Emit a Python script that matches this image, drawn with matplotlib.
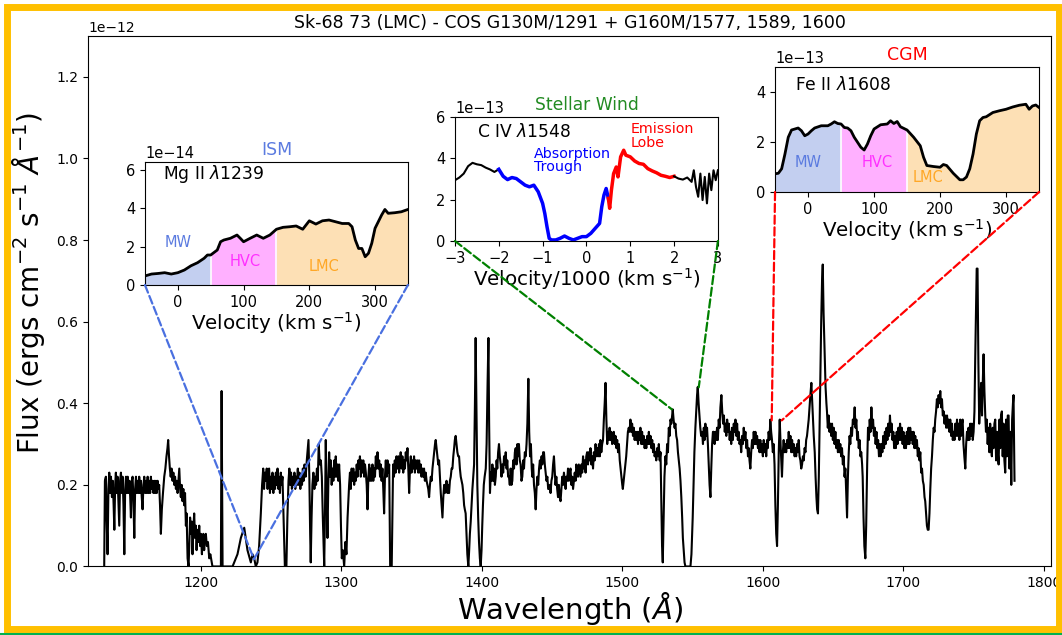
import numpy as np
import matplotlib
matplotlib.use('Agg')
import matplotlib.pyplot as plt
from matplotlib.patches import ConnectionPatch, Rectangle
from matplotlib.lines import Line2D

# main COS spectrum as (wavelength A, flux in 1e-12 erg/cm2/s/A), read in pieces
seg_1130 = [(1131.5, 0.0), (1132.0, 0.21), (1132.7, 0.22), (1133.2, 0.12), (1133.9, 0.03),
            (1134.5, 0.19), (1135.1, 0.23), (1135.7, 0.18), (1136.3, 0.22), (1137.0, 0.17),
            (1137.6, 0.21), (1138.2, 0.15), (1138.7, 0.09), (1139.3, 0.20), (1139.8, 0.23),
            (1140.4, 0.18), (1141.0, 0.22), (1141.6, 0.16), (1142.2, 0.10), (1142.8, 0.21),
            (1143.4, 0.23), (1144.0, 0.18), (1144.6, 0.22), (1145.2, 0.15), (1145.8, 0.03),
            (1146.4, 0.19), (1147.0, 0.22), (1147.6, 0.18), (1148.2, 0.22), (1148.8, 0.18),
            (1149.4, 0.21), (1150.0, 0.17), (1150.5, 0.12), (1151.1, 0.21), (1151.7, 0.22),
            (1152.3, 0.16), (1152.9, 0.07), (1153.5, 0.19), (1154.1, 0.22), (1154.7, 0.18),
            (1155.3, 0.21), (1155.9, 0.18), (1156.4, 0.22), (1157.0, 0.18), (1157.6, 0.21),
            (1158.2, 0.17), (1158.8, 0.14), (1159.4, 0.20), (1160.0, 0.22), (1160.6, 0.18),
            (1161.2, 0.21), (1161.8, 0.18), (1162.4, 0.22), (1163.0, 0.18), (1163.6, 0.21),
            (1164.2, 0.18), (1164.7, 0.22), (1165.3, 0.19), (1165.9, 0.21), (1166.5, 0.18),
            (1167.1, 0.21), (1167.7, 0.18), (1168.3, 0.21), (1168.9, 0.18), (1169.5, 0.21),
            (1170.1, 0.19), (1170.6, 0.20), (1171.2, 0.15), (1171.8, 0.08), (1172.5, 0.14),
            (1173.3, 0.18), (1174.2, 0.22), (1175.0, 0.24), (1175.8, 0.27), (1176.5, 0.29),
            (1177.0, 0.31), (1177.6, 0.27), (1178.2, 0.24), (1178.8, 0.22), (1179.4, 0.24),
            (1180.1, 0.21), (1180.7, 0.23), (1181.3, 0.20), (1181.9, 0.22), (1182.5, 0.19),
            (1183.1, 0.21), (1183.7, 0.18), (1184.3, 0.21), (1184.9, 0.24), (1185.5, 0.19),
            (1186.0, 0.17), (1186.6, 0.20), (1187.2, 0.16), (1187.8, 0.19), (1188.4, 0.15),
            (1189.0, 0.18), (1189.6, 0.10), (1190.1, 0.13), (1190.8, 0.02), (1191.5, 0.0),
            (1192.0, 0.05), (1192.6, 0.12), (1193.2, 0.08), (1193.8, 0.11), (1194.3, 0.03),
            (1194.9, 0.09), (1195.5, 0.13), (1196.1, 0.07), (1196.7, 0.10), (1197.2, 0.04),
            (1197.8, 0.09), (1198.4, 0.06), (1199.1, 0.10), (1199.7, 0.05), (1200.3, 0.08),
            (1201.0, 0.03), (1201.4, 0.06), (1202.0, 0.08), (1202.6, 0.04), (1203.2, 0.07),
            (1203.8, 0.08), (1204.5, 0.05), (1205.3, 0.06), (1206.2, 0.02), (1207.0, 0.03),
            (1208.5, 0.0)]

seg_lya_mg = [(1214.5, 0.0), (1215.0, 0.43), (1215.7, 0.0), (1222.8, 0.0), (1226.3, 0.03),
              (1228.7, 0.07), (1231.1, 0.095), (1233.4, 0.04), (1235.8, 0.01), (1237.0, 0.03),
              (1238.2, 0.02), (1239.3, 0.0), (1240.5, 0.01), (1241.7, 0.05), (1242.9, 0.13),
              (1243.8, 0.20), (1244.6, 0.24)]

seg_1245 = [(1245.2, 0.19), (1245.8, 0.23), (1246.5, 0.21), (1247.1, 0.24), (1247.7, 0.19),
            (1248.3, 0.23), (1248.8, 0.24), (1249.4, 0.18), (1250.0, 0.22), (1250.6, 0.19),
            (1251.2, 0.23), (1251.8, 0.18), (1252.4, 0.22), (1253.0, 0.19), (1253.6, 0.23),
            (1254.2, 0.20), (1254.8, 0.24), (1255.4, 0.19), (1255.9, 0.22), (1256.5, 0.18),
            (1257.1, 0.23), (1257.7, 0.20), (1258.3, 0.22), (1259.2, 0.10), (1260.0, 0.0),
            (1261.1, 0.0), (1261.8, 0.12), (1262.6, 0.21), (1263.2, 0.24), (1263.8, 0.20),
            (1264.4, 0.23), (1265.0, 0.19), (1265.6, 0.22), (1266.2, 0.20), (1266.8, 0.23),
            (1267.4, 0.19), (1268.0, 0.22), (1268.6, 0.20), (1269.2, 0.24), (1269.8, 0.20),
            (1270.4, 0.23), (1271.0, 0.19), (1271.6, 0.22), (1272.2, 0.20), (1272.8, 0.24),
            (1273.4, 0.21), (1274.0, 0.25), (1274.8, 0.22), (1275.6, 0.26), (1276.3, 0.29),
            (1276.8, 0.31), (1277.4, 0.22), (1278.0, 0.08), (1278.4, 0.01), (1279.0, 0.12),
            (1279.6, 0.20), (1280.3, 0.23), (1281.0, 0.19), (1281.6, 0.22), (1282.2, 0.20),
            (1282.8, 0.24), (1283.4, 0.21), (1284.1, 0.30), (1284.8, 0.25), (1285.6, 0.26),
            (1286.3, 0.22), (1287.0, 0.12), (1288.0, 0.0), (1288.6, 0.15), (1289.1, 0.31),
            (1289.7, 0.18), (1290.3, 0.07), (1290.9, 0.20), (1291.5, 0.28)]

seg_1292 = [(1292.1, 0.22), (1292.7, 0.26), (1293.3, 0.20), (1293.9, 0.24), (1294.5, 0.21),
            (1295.1, 0.26), (1295.7, 0.22), (1296.2, 0.27), (1296.8, 0.22), (1297.4, 0.25),
            (1298.0, 0.21), (1298.6, 0.25), (1299.3, 0.20), (1299.9, 0.10), (1300.5, 0.02),
            (1301.2, 0.04), (1302.2, 0.0), (1303.0, 0.06), (1303.8, 0.03), (1304.6, 0.12),
            (1305.7, 0.20), (1306.3, 0.23), (1306.9, 0.19), (1307.5, 0.24), (1308.1, 0.21),
            (1308.7, 0.24), (1309.3, 0.20), (1309.9, 0.23), (1310.5, 0.21), (1311.1, 0.25),
            (1311.7, 0.22), (1312.3, 0.26), (1312.8, 0.24), (1313.4, 0.27), (1314.0, 0.22),
            (1314.6, 0.26), (1315.2, 0.23), (1315.8, 0.26), (1316.4, 0.22), (1317.0, 0.25),
            (1317.6, 0.23), (1318.2, 0.20), (1318.8, 0.14), (1319.4, 0.22), (1320.0, 0.25),
            (1320.6, 0.21), (1321.1, 0.24), (1321.7, 0.21), (1322.3, 0.25), (1322.9, 0.21),
            (1323.5, 0.24), (1324.1, 0.22), (1324.7, 0.27), (1325.3, 0.24), (1325.9, 0.28),
            (1326.5, 0.24), (1327.1, 0.26), (1327.7, 0.22), (1328.2, 0.25), (1328.8, 0.21),
            (1329.4, 0.24), (1330.0, 0.19), (1330.6, 0.13), (1331.2, 0.22), (1331.8, 0.26),
            (1332.4, 0.22), (1333.0, 0.26), (1333.6, 0.23), (1334.2, 0.25), (1334.9, 0.0),
            (1336.0, 0.0), (1337.0, 0.25), (1337.6, 0.22), (1338.2, 0.26), (1338.8, 0.23),
            (1339.4, 0.27), (1340.1, 0.24), (1340.7, 0.27), (1341.3, 0.23), (1341.9, 0.26),
            (1342.4, 0.28), (1343.0, 0.24), (1343.6, 0.27), (1344.2, 0.23), (1344.8, 0.26),
            (1345.4, 0.24), (1346.0, 0.28), (1346.6, 0.26), (1347.2, 0.29), (1347.8, 0.24),
            (1348.4, 0.18), (1349.0, 0.24), (1349.6, 0.27), (1350.1, 0.23), (1350.7, 0.26),
            (1351.3, 0.24), (1351.9, 0.27), (1352.5, 0.23), (1353.1, 0.26), (1353.7, 0.24),
            (1354.3, 0.26), (1354.9, 0.23), (1355.5, 0.26), (1356.1, 0.23), (1356.7, 0.25),
            (1357.2, 0.22), (1357.8, 0.24), (1358.4, 0.22), (1359.0, 0.24), (1359.6, 0.21),
            (1360.2, 0.23), (1360.8, 0.21), (1361.4, 0.20), (1362.0, 0.19), (1362.6, 0.17),
            (1363.2, 0.20), (1363.8, 0.22), (1364.4, 0.21), (1365.0, 0.24), (1365.6, 0.26),
            (1366.2, 0.28), (1366.8, 0.30), (1367.3, 0.31), (1367.9, 0.29), (1368.5, 0.27),
            (1369.1, 0.25), (1369.7, 0.26), (1370.3, 0.22), (1370.9, 0.18), (1371.5, 0.15),
            (1372.1, 0.12), (1372.7, 0.17), (1373.3, 0.20), (1373.8, 0.18), (1374.4, 0.19),
            (1375.0, 0.21), (1375.6, 0.18), (1376.2, 0.20), (1376.8, 0.18), (1377.4, 0.21),
            (1378.0, 0.22), (1378.6, 0.24), (1379.2, 0.24), (1379.8, 0.27), (1380.4, 0.29),
            (1380.9, 0.31), (1381.5, 0.32), (1382.1, 0.30), (1382.7, 0.28), (1383.3, 0.27),
            (1383.9, 0.27), (1384.5, 0.24), (1385.1, 0.22), (1385.7, 0.21), (1386.3, 0.20),
            (1386.9, 0.18), (1387.5, 0.15), (1388.0, 0.14), (1388.6, 0.13), (1389.2, 0.08),
            (1389.8, 0.03), (1390.5, 0.0), (1391.1, 0.04), (1391.6, 0.08), (1392.2, 0.11),
            (1392.8, 0.15), (1393.4, 0.19), (1394.0, 0.22), (1394.6, 0.25), (1395.2, 0.40),
            (1395.7, 0.56), (1396.2, 0.40), (1396.9, 0.20), (1397.5, 0.12), (1398.1, 0.06),
            (1398.7, 0.02), (1399.3, 0.0), (1399.9, 0.04), (1400.4, 0.10), (1400.9, 0.15),
            (1401.5, 0.20), (1402.1, 0.22), (1402.9, 0.24), (1403.5, 0.30), (1404.2, 0.45),
            (1404.8, 0.56), (1405.3, 0.35), (1405.9, 0.18), (1406.5, 0.23), (1407.1, 0.21),
            (1407.6, 0.25), (1408.2, 0.21), (1408.8, 0.24), (1409.4, 0.20), (1410.0, 0.22),
            (1410.6, 0.26), (1411.1, 0.24), (1411.7, 0.28), (1412.3, 0.30), (1412.9, 0.27),
            (1413.5, 0.25), (1414.1, 0.22), (1414.7, 0.25), (1415.3, 0.23), (1415.9, 0.27),
            (1416.5, 0.25), (1417.1, 0.28), (1417.7, 0.24), (1418.2, 0.26), (1418.8, 0.22),
            (1419.4, 0.22), (1420.0, 0.20), (1420.6, 0.24), (1421.2, 0.20), (1421.8, 0.21),
            (1422.4, 0.26), (1423.0, 0.24), (1423.6, 0.28), (1424.2, 0.29), (1424.8, 0.25),
            (1425.4, 0.30), (1425.9, 0.27), (1426.5, 0.30), (1427.1, 0.26), (1427.7, 0.25),
            (1428.3, 0.21), (1428.9, 0.22), (1429.5, 0.26), (1430.1, 0.24), (1430.7, 0.28),
            (1431.3, 0.27), (1431.9, 0.30), (1432.5, 0.35), (1433.2, 0.46), (1433.8, 0.33),
            (1434.4, 0.27), (1435.0, 0.30), (1435.6, 0.24), (1436.0, 0.22), (1436.6, 0.25),
            (1437.2, 0.20), (1437.8, 0.18), (1438.4, 0.14), (1439.0, 0.19), (1439.6, 0.22),
            (1440.2, 0.20), (1440.8, 0.24), (1441.4, 0.26), (1442.0, 0.24), (1442.6, 0.27),
            (1443.1, 0.25), (1443.7, 0.28), (1444.3, 0.28), (1444.9, 0.25), (1445.5, 0.23),
            (1446.1, 0.21), (1446.7, 0.22), (1447.3, 0.19), (1447.9, 0.19), (1448.5, 0.20),
            (1449.0, 0.18), (1449.6, 0.21), (1450.2, 0.22), (1450.8, 0.25), (1451.4, 0.27),
            (1452.0, 0.23), (1452.5, 0.20), (1453.1, 0.22), (1453.7, 0.19), (1454.3, 0.17),
            (1454.9, 0.20), (1455.5, 0.17), (1456.1, 0.16), (1456.7, 0.19), (1457.3, 0.22),
            (1457.9, 0.20), (1458.5, 0.23), (1459.1, 0.21), (1459.7, 0.19), (1460.2, 0.22),
            (1460.8, 0.21), (1461.4, 0.24), (1462.0, 0.21), (1462.6, 0.23), (1463.2, 0.24),
            (1463.8, 0.20), (1464.4, 0.22), (1465.0, 0.19), (1465.6, 0.21), (1466.2, 0.23),
            (1466.8, 0.21), (1467.3, 0.25), (1467.9, 0.24), (1468.5, 0.22), (1469.1, 0.25)]

seg_1470 = [(1470.3, 0.22), (1471.0, 0.25), (1471.5, 0.23), (1472.1, 0.27), (1472.7, 0.24),
            (1473.3, 0.26), (1473.9, 0.23), (1474.4, 0.27), (1475.0, 0.28), (1475.6, 0.25),
            (1476.2, 0.28), (1476.8, 0.26), (1477.4, 0.29), (1478.0, 0.25), (1478.6, 0.27),
            (1479.2, 0.24), (1479.8, 0.28), (1480.4, 0.26), (1481.0, 0.30), (1481.6, 0.27),
            (1482.2, 0.29), (1482.8, 0.27), (1483.4, 0.30), (1484.0, 0.27), (1484.5, 0.31),
            (1485.1, 0.28), (1485.7, 0.30), (1486.3, 0.31), (1486.9, 0.36), (1487.5, 0.40),
            (1488.1, 0.45), (1488.7, 0.36), (1489.3, 0.30), (1489.9, 0.33), (1490.4, 0.31),
            (1491.0, 0.34), (1491.6, 0.31), (1492.2, 0.33), (1492.8, 0.30), (1493.4, 0.32),
            (1494.0, 0.33), (1494.6, 0.30), (1495.2, 0.32), (1495.8, 0.29), (1496.4, 0.31),
            (1497.0, 0.28), (1497.6, 0.30), (1498.2, 0.26), (1498.8, 0.24), (1499.4, 0.22),
            (1500.0, 0.20), (1500.4, 0.19), (1501.0, 0.21), (1501.6, 0.23), (1502.2, 0.25),
            (1502.8, 0.27), (1503.4, 0.30), (1504.0, 0.33), (1504.6, 0.34), (1505.2, 0.33),
            (1505.8, 0.36), (1506.4, 0.33), (1507.0, 0.35), (1507.6, 0.32), (1508.2, 0.34),
            (1508.8, 0.31), (1509.4, 0.33), (1510.0, 0.31), (1510.6, 0.33), (1511.2, 0.30),
            (1511.8, 0.33), (1512.3, 0.31), (1512.9, 0.34), (1513.5, 0.30), (1514.1, 0.33),
            (1514.7, 0.30), (1515.3, 0.32), (1515.9, 0.29), (1516.5, 0.31), (1517.1, 0.29),
            (1517.7, 0.32), (1518.3, 0.30), (1518.9, 0.33), (1519.5, 0.30), (1520.1, 0.32),
            (1520.7, 0.29), (1521.3, 0.31), (1521.9, 0.28), (1522.5, 0.30), (1523.0, 0.27),
            (1523.6, 0.28), (1524.2, 0.26), (1524.8, 0.29), (1525.4, 0.27), (1526.0, 0.30),
            (1526.6, 0.26), (1527.2, 0.28), (1527.8, 0.15), (1528.3, 0.05), (1528.8, 0.01),
            (1529.4, 0.12), (1530.0, 0.22), (1530.7, 0.27), (1531.3, 0.25), (1531.9, 0.30),
            (1532.5, 0.28), (1533.1, 0.34), (1533.7, 0.32), (1534.3, 0.36), (1534.9, 0.35),
            (1535.9, 0.385), (1536.5, 0.36), (1537.2, 0.34), (1537.8, 0.35), (1538.4, 0.32),
            (1539.0, 0.31), (1539.6, 0.28), (1540.2, 0.26), (1540.8, 0.24), (1541.4, 0.21),
            (1542.0, 0.17), (1542.6, 0.12), (1543.1, 0.07), (1543.7, 0.04), (1544.3, 0.01),
            (1544.9, 0.0), (1546.1, 0.0), (1547.3, 0.0), (1548.5, 0.0), (1549.2, 0.03),
            (1549.7, 0.08), (1550.1, 0.12), (1550.7, 0.20), (1551.3, 0.28), (1552.0, 0.34),
            (1552.6, 0.38), (1553.2, 0.42), (1553.7, 0.44), (1554.3, 0.40), (1554.9, 0.37),
            (1555.5, 0.34), (1556.1, 0.32), (1556.8, 0.33), (1557.4, 0.30), (1558.0, 0.34),
            (1558.6, 0.31), (1559.1, 0.35), (1559.7, 0.32), (1560.3, 0.34), (1560.9, 0.30),
            (1561.5, 0.25), (1562.1, 0.20), (1562.7, 0.17), (1563.3, 0.24), (1563.9, 0.30),
            (1564.5, 0.33), (1565.1, 0.33), (1565.7, 0.30), (1566.3, 0.33), (1566.9, 0.31),
            (1567.4, 0.34), (1568.0, 0.31), (1568.6, 0.36), (1569.2, 0.34), (1569.8, 0.39),
            (1570.5, 0.42), (1571.1, 0.38), (1571.7, 0.35), (1572.3, 0.37), (1572.9, 0.33),
            (1573.4, 0.35), (1574.0, 0.32), (1574.6, 0.36), (1575.2, 0.33), (1575.8, 0.35),
            (1576.4, 0.31), (1576.9, 0.33), (1577.5, 0.30), (1578.1, 0.34), (1578.7, 0.31),
            (1579.3, 0.35), (1579.9, 0.33), (1580.5, 0.36), (1581.1, 0.32), (1581.7, 0.35),
            (1582.2, 0.31), (1582.8, 0.33), (1583.4, 0.30), (1584.0, 0.31), (1584.6, 0.28),
            (1585.2, 0.32), (1585.8, 0.30), (1586.4, 0.34), (1587.0, 0.31), (1587.6, 0.33),
            (1588.2, 0.29), (1588.8, 0.31), (1589.4, 0.27), (1590.0, 0.29), (1590.5, 0.26),
            (1591.1, 0.24), (1591.7, 0.28), (1592.3, 0.31), (1592.9, 0.29), (1593.5, 0.33),
            (1594.1, 0.30), (1594.7, 0.33), (1595.3, 0.30), (1595.9, 0.32), (1596.5, 0.29),
            (1597.0, 0.31), (1597.6, 0.28), (1598.2, 0.31), (1598.8, 0.28), (1599.4, 0.30),
            (1600.0, 0.27), (1600.6, 0.31), (1601.2, 0.28), (1601.8, 0.30), (1602.4, 0.27),
            (1603.0, 0.31), (1603.5, 0.29), (1604.1, 0.33), (1604.7, 0.31), (1605.3, 0.36),
            (1605.9, 0.33), (1606.5, 0.31), (1607.1, 0.28), (1607.7, 0.30), (1608.3, 0.25),
            (1608.9, 0.15), (1609.5, 0.08), (1610.1, 0.05), (1610.7, 0.15), (1611.3, 0.28),
            (1612.0, 0.36), (1612.6, 0.30), (1613.1, 0.26), (1613.6, 0.22), (1614.2, 0.28),
            (1614.8, 0.31), (1615.4, 0.28), (1616.0, 0.30), (1616.6, 0.28), (1617.2, 0.31),
            (1617.8, 0.29)]

seg_1618 = [(1618.4, 0.33), (1619.0, 0.29), (1619.6, 0.32), (1620.2, 0.28), (1620.8, 0.31),
            (1621.4, 0.28), (1622.0, 0.30), (1622.6, 0.27), (1623.1, 0.29), (1623.7, 0.27),
            (1624.3, 0.30), (1624.9, 0.28), (1625.5, 0.31), (1626.1, 0.27), (1626.7, 0.26),
            (1627.3, 0.24), (1627.9, 0.25), (1628.5, 0.27), (1629.1, 0.26), (1629.7, 0.29),
            (1630.3, 0.28), (1630.8, 0.31), (1631.4, 0.32), (1632.0, 0.34), (1632.6, 0.36),
            (1633.2, 0.39), (1633.8, 0.42), (1634.5, 0.45), (1635.0, 0.41), (1635.6, 0.36),
            (1636.2, 0.32), (1636.9, 0.28), (1637.5, 0.22), (1638.1, 0.17), (1638.6, 0.14),
            (1639.2, 0.13), (1639.8, 0.22), (1640.4, 0.35), (1640.9, 0.45), (1641.5, 0.60),
            (1642.1, 0.70), (1642.6, 0.74), (1643.2, 0.62), (1644.0, 0.52), (1644.6, 0.44),
            (1645.2, 0.40), (1645.6, 0.38), (1646.2, 0.34), (1646.8, 0.37), (1647.4, 0.33),
            (1648.0, 0.35), (1648.6, 0.32), (1649.2, 0.35), (1649.8, 0.31), (1650.4, 0.34),
            (1651.0, 0.30), (1651.6, 0.33), (1652.2, 0.29), (1652.8, 0.31), (1653.4, 0.28),
            (1654.0, 0.31), (1654.5, 0.28), (1655.1, 0.30), (1655.7, 0.27), (1656.3, 0.29),
            (1656.9, 0.25), (1657.5, 0.27), (1658.1, 0.22), (1658.7, 0.24), (1659.3, 0.18),
            (1659.9, 0.12), (1660.5, 0.22), (1661.1, 0.28), (1661.7, 0.32), (1662.2, 0.30),
            (1662.8, 0.34), (1663.4, 0.32), (1664.0, 0.36), (1664.6, 0.35), (1665.3, 0.39),
            (1665.9, 0.34), (1666.5, 0.36), (1667.1, 0.31), (1667.6, 0.33), (1668.2, 0.29),
            (1668.8, 0.31), (1669.4, 0.27), (1670.0, 0.28), (1670.6, 0.25), (1671.0, 0.22),
            (1671.6, 0.12), (1672.2, 0.05), (1672.9, 0.02), (1673.5, 0.10), (1674.2, 0.25),
            (1674.8, 0.34), (1675.4, 0.31), (1676.0, 0.36), (1676.6, 0.33), (1677.2, 0.39),
            (1677.8, 0.34), (1678.4, 0.36), (1679.0, 0.32), (1679.6, 0.34), (1680.2, 0.30),
            (1680.8, 0.33), (1681.4, 0.29), (1682.0, 0.31), (1682.6, 0.27), (1683.2, 0.30),
            (1683.8, 0.27), (1684.4, 0.30), (1685.0, 0.28), (1685.6, 0.32), (1686.2, 0.29),
            (1686.8, 0.33), (1687.4, 0.30), (1688.0, 0.34), (1688.6, 0.31), (1689.2, 0.35),
            (1689.8, 0.32), (1690.4, 0.37), (1691.0, 0.33), (1691.6, 0.35), (1692.2, 0.31),
            (1692.8, 0.33), (1693.4, 0.29), (1694.0, 0.32), (1694.6, 0.29), (1695.2, 0.33),
            (1695.8, 0.30), (1696.4, 0.34), (1697.0, 0.31), (1697.6, 0.35), (1698.2, 0.31),
            (1698.8, 0.34), (1699.4, 0.30), (1700.0, 0.33), (1700.6, 0.29), (1701.2, 0.32),
            (1701.8, 0.29), (1702.4, 0.33), (1703.0, 0.30), (1703.6, 0.34), (1704.2, 0.30),
            (1704.8, 0.34), (1705.4, 0.31), (1706.0, 0.33), (1706.6, 0.30), (1707.2, 0.33),
            (1707.8, 0.29), (1708.4, 0.32), (1709.0, 0.29), (1709.6, 0.31), (1710.2, 0.27),
            (1710.8, 0.29), (1711.4, 0.26), (1712.0, 0.28), (1712.6, 0.23), (1713.2, 0.24),
            (1713.8, 0.21), (1714.4, 0.20), (1715.0, 0.17), (1715.5, 0.16), (1716.1, 0.13),
            (1716.7, 0.10), (1717.3, 0.09), (1717.9, 0.09), (1718.5, 0.13), (1719.1, 0.19),
            (1719.7, 0.24), (1720.3, 0.27), (1720.9, 0.31), (1721.5, 0.34), (1722.1, 0.33),
            (1722.6, 0.36), (1723.2, 0.38), (1723.8, 0.41), (1724.4, 0.39), (1725.0, 0.42),
            (1725.6, 0.40), (1726.2, 0.43), (1726.8, 0.39), (1727.4, 0.41), (1728.0, 0.37),
            (1728.6, 0.38), (1729.2, 0.35), (1729.8, 0.37), (1730.4, 0.34), (1731.0, 0.37),
            (1731.6, 0.34), (1732.1, 0.36), (1732.7, 0.33), (1733.3, 0.36), (1733.9, 0.32),
            (1734.5, 0.35), (1735.1, 0.31), (1735.7, 0.33), (1736.3, 0.31), (1736.9, 0.35),
            (1737.5, 0.32), (1738.1, 0.36), (1738.7, 0.32), (1739.2, 0.35), (1739.8, 0.31),
            (1740.4, 0.36), (1741.0, 0.32), (1741.6, 0.35), (1742.1, 0.36), (1742.7, 0.30),
            (1743.3, 0.27), (1744.0, 0.24), (1744.6, 0.30), (1745.2, 0.33), (1745.8, 0.31),
            (1746.3, 0.34), (1746.9, 0.31), (1747.5, 0.35), (1748.1, 0.32), (1748.7, 0.35),
            (1749.3, 0.31), (1749.9, 0.33), (1750.5, 0.38), (1751.1, 0.52), (1751.7, 0.64),
            (1752.1, 0.73), (1752.7, 0.73), (1753.3, 0.50), (1753.9, 0.35), (1754.5, 0.40),
            (1755.3, 0.45), (1755.9, 0.37), (1756.5, 0.46), (1757.0, 0.52), (1757.6, 0.43),
            (1758.2, 0.37), (1758.7, 0.33), (1759.3, 0.36), (1759.9, 0.30), (1760.5, 0.34),
            (1761.1, 0.28), (1761.7, 0.35), (1762.3, 0.29), (1762.9, 0.27), (1763.5, 0.34),
            (1764.1, 0.29), (1764.7, 0.35), (1765.3, 0.36), (1765.9, 0.26), (1766.5, 0.33),
            (1767.1, 0.28), (1767.7, 0.25), (1768.3, 0.36), (1768.9, 0.29), (1769.4, 0.37),
            (1770.0, 0.38), (1770.6, 0.27), (1771.2, 0.35), (1771.8, 0.26), (1772.4, 0.23),
            (1773.0, 0.36), (1773.6, 0.27), (1774.2, 0.37), (1774.8, 0.37), (1775.4, 0.24),
            (1776.1, 0.33), (1776.7, 0.20), (1777.3, 0.36), (1777.9, 0.40), (1778.3, 0.42),
            (1778.7, 0.30), (1779.0, 0.21)]

# Mg II 1239 (flux in 1e-14)
mg_vel = [-50, -40, -30, -20, -10, 0, 10, 20, 30, 40, 45, 50, 60, 65, 70, 80, 90, 95, 100,
          110, 120, 130, 140, 150, 160, 170, 180, 190, 200, 210, 220, 230, 240, 250, 260,
          265, 270, 275, 280, 285, 290, 295, 300, 310, 315, 320, 330, 340, 350]
mg_flux = [0.47, 0.57, 0.60, 0.64, 0.57, 0.64, 0.78, 1.00, 1.16, 1.39, 1.56, 1.56, 1.82,
           2.25, 2.34, 2.43, 2.60, 2.43, 2.25, 2.43, 2.60, 2.43, 2.60, 2.90, 3.00, 3.03,
           3.07, 2.90, 3.34, 3.17, 3.34, 3.38, 3.29, 3.20, 3.20, 3.03, 2.34, 1.90, 1.90,
           1.47, 1.65, 2.17, 2.95, 3.64, 3.93, 3.73, 3.76, 3.81, 3.93]

# C IV 1548 (velocity / 1000 km/s, flux in 1e-13)
civ_vel = [-3.0, -2.9, -2.8, -2.7, -2.6, -2.5, -2.4, -2.3, -2.2, -2.1, -2.0,
           -1.9, -1.8, -1.7, -1.6, -1.5, -1.4, -1.3, -1.2, -1.1, -1.0, -0.95, -0.9,
           -0.85, -0.8, -0.7, -0.6, -0.5, -0.4, -0.3, -0.2, -0.1, 0.0, 0.1, 0.2, 0.3,
           0.35, 0.4, 0.45, 0.5, 0.53, 0.57, 0.62, 0.68, 0.72, 0.78, 0.85, 0.9, 1.0,
           1.1, 1.2, 1.3, 1.4, 1.5, 1.6, 1.7, 1.8, 1.9, 2.0, 2.1, 2.2, 2.3, 2.4, 2.45,
           2.5, 2.55, 2.6, 2.65, 2.7, 2.75, 2.8, 2.85, 2.9, 2.95, 3.0]
civ_flux = [2.94, 3.07, 3.26, 3.62, 3.78, 3.71, 3.67, 3.55, 3.46, 3.34, 3.47,
            3.13, 2.97, 3.07, 3.02, 2.86, 2.70, 2.62, 2.70, 2.38, 1.82, 1.33, 0.69,
            0.13, 0.05, 0.05, 0.13, 0.24, 0.13, 0.05, 0.13, 0.21, 0.21, 0.37, 0.61, 0.85,
            1.66, 2.22, 2.54, 2.06, 1.58, 2.46, 3.26, 3.58, 3.10, 4.07, 4.39, 4.15, 4.07,
            3.87, 3.75, 3.71, 3.50, 3.39, 3.30, 3.18, 3.13, 3.07, 3.13, 3.02, 2.97, 3.07,
            2.86, 3.42, 2.62, 2.14, 3.26, 1.98, 3.10, 1.82, 3.26, 2.46, 3.42, 2.94, 3.42]

# Fe II 1608 (flux in 1e-13)
fe_vel = [-50, -45, -40, -35, -30, -25, -20, -15, -10, -5, 0, 5, 10, 20, 30, 35, 40, 45,
          50, 55, 60, 65, 70, 75, 80, 85, 90, 95, 100, 110, 120, 125, 130, 135, 140, 150,
          160, 170, 175, 180, 190, 200, 205, 210, 220, 230, 235, 240, 245, 250, 255, 260,
          265, 270, 280, 290, 300, 310, 320, 330, 335, 340, 345, 350]
fe_flux = [0.73, 0.75, 0.93, 1.52, 2.19, 2.48, 2.52, 2.56, 2.45, 2.25, 2.32, 2.45, 2.56,
           2.65, 2.65, 2.72, 2.81, 2.74, 2.72, 2.58, 2.56, 2.45, 2.19, 1.99, 1.79, 1.68,
           1.92, 2.25, 2.52, 2.69, 2.72, 2.85, 2.74, 2.82, 2.61, 2.48, 2.19, 1.85, 1.39,
           1.06, 1.02, 0.99, 1.10, 1.06, 0.75, 0.49, 0.49, 0.60, 0.93, 1.52, 2.32, 2.85,
           2.98, 3.01, 3.18, 3.25, 3.31, 3.40, 3.47, 3.51, 3.31, 3.44, 3.48, 3.38]

components = ['MW', 'HVC', 'LMC']
comp_ranges = [(-50, 50), (50, 150), (150, 350)]
fill_colors = ['#c3cff0', '#ffb0ff', '#fde0b5']
text_colors = ['#5b7be0', '#ff30ff', '#ffa726']

spec = seg_1130 + seg_lya_mg + seg_1245 + seg_1292 + seg_1470 + seg_1618
wave = np.array([p[0] for p in spec])
flux = np.array([p[1] for p in spec])

fig = plt.figure(figsize=(10.62, 6.35), dpi=100)

ax = fig.add_axes([0.0829, 0.1079, 0.9068, 0.8354])
ax.plot(wave, flux * 1e-12, color='black', lw=1.5)
ax.set_xlim(1120, 1805)
ax.set_ylim(0, 1.3e-12)
ax.tick_params(labelsize=10)
ax.yaxis.get_offset_text().set_fontsize(10)
ax.set_xlabel(r'Wavelength ($\AA$)', fontsize=21, labelpad=0)
ax.set_ylabel(r'Flux (ergs cm$^{-2}$ s$^{-1}$ $\AA^{-1}$)', fontsize=20)
ax.yaxis.set_label_coords(-0.043, 0.535)
ax.set_title('Sk-68 73 (LMC) - COS G130M/1291 + G160M/1577, 1589, 1600', fontsize=12.5, pad=6)


def shade(axi, vel, fl, scale, labels_xy):
    vel = np.array(vel)
    fl = np.array(fl) * scale
    for (lo, hi), fc, tc, name, (tx, ty) in zip(comp_ranges, fill_colors, text_colors,
                                                components, labels_xy):
        m = (vel >= lo) & (vel <= hi)
        axi.fill_between(vel[m], 0, fl[m], color=fc, lw=0)
        axi.text(tx, ty * scale, name, color=tc, fontsize=10.5, ha='center', va='center')
    for b in (50, 150):
        axi.axvline(b, color='white', lw=1.2, ymax=np.interp(b, vel, fl) / axi.get_ylim()[1])
    axi.plot(vel, fl, color='black', lw=2)


# Mg II inset
ax1 = fig.add_axes([0.1365, 0.5512, 0.2476, 0.1937])
ax1.set_xlim(-50, 350)
ax1.set_ylim(0, 6.4e-14)
shade(ax1, mg_vel, mg_flux, 1e-14, [(0, 2.2), (102, 1.2), (222, 0.95)])
ax1.set_yticks(np.array([0, 2, 4, 6]) * 1e-14)
ax1.set_xticks([0, 100, 200, 300])
ax1.text(0.07, 0.9, r'Mg II $\lambda$1239', transform=ax1.transAxes, fontsize=12.3, va='center')
ax1.set_title('ISM', color='#5b7be0', fontsize=12.5, pad=5)
ax1.set_xlabel(r'Velocity (km s$^{-1}$)', fontsize=14.3, labelpad=0)

# C IV inset
ax2 = fig.add_axes([0.4284, 0.6205, 0.2476, 0.1953])
ax2.set_xlim(-3, 3)
ax2.set_ylim(0, 6e-13)
cv = np.array(civ_vel)
cf = np.array(civ_flux) * 1e-13
segs = [(-3, -2, 'black', 1.5), (-2, 0.5, 'blue', 2.5), (0.5, 2, 'red', 2.5), (2, 3, 'black', 1.5)]
for lo, hi, c, w in segs:
    m = (cv >= lo) & (cv <= hi)
    ax2.plot(cv[m], cf[m], color=c, lw=w)
ax2.set_yticks(np.array([0, 2, 4, 6]) * 1e-13)
ax2.set_xticks([-3, -2, -1, 0, 1, 2, 3])
ax2.text(0.084, 0.88, r'C IV $\lambda$1548', transform=ax2.transAxes, fontsize=12.3, va='center')
ax2.text(-1.2, 3.9e-13, 'Absorption\nTrough', color='blue', fontsize=10.3, va='center',
         linespacing=0.95)
ax2.text(1.0, 5.07e-13, 'Emission\nLobe', color='red', fontsize=10.3, va='center',
         linespacing=0.95)
ax2.set_title('Stellar Wind', color='forestgreen', fontsize=12.3, pad=5)
ax2.set_xlabel(r'Velocity/1000 (km s$^{-1}$)', fontsize=14.3, labelpad=0)

# Fe II inset
ax3 = fig.add_axes([0.7298, 0.6976, 0.2486, 0.1969])
ax3.set_xlim(-50, 350)
ax3.set_ylim(0, 5e-13)
shade(ax3, fe_vel, fe_flux, 1e-13, [(0, 1.19), (104, 1.19), (182, 0.6)])
ax3.set_yticks(np.array([0, 2, 4]) * 1e-13)
ax3.set_xticks([0, 100, 200, 300])
ax3.text(0.076, 0.856, r'Fe II $\lambda$1608', transform=ax3.transAxes, fontsize=12.3, va='center')
ax3.set_title('CGM', color='red', fontsize=12.5, pad=5)
ax3.set_xlabel(r'Velocity (km s$^{-1}$)', fontsize=14.3, labelpad=0)

for a in (ax1, ax2, ax3):
    a.tick_params(labelsize=10.5)
    a.yaxis.get_offset_text().set_fontsize(10.5)

# dashed connectors from the insets down to the lines in the spectrum
links = [(ax1, (0, 0), (1238, 0.018), '#4a70e0'), (ax1, (1, 0), (1238, 0.018), '#4a70e0'),
         (ax2, (0, 0), (1535.3, 0.385), 'green'), (ax2, (1, 0), (1554.4, 0.439), 'green'),
         (ax3, (0, 0), (1606.3, 0.358), 'red'), (ax3, (1, 0), (1613.4, 0.358), 'red')]
for a, pa, (lx, ly), c in links:
    cp = ConnectionPatch(xyA=pa, coordsA=a.transAxes, xyB=(lx, ly * 1e-12), coordsB=ax.transData,
                         color=c, ls='--', lw=1.6)
    fig.add_artist(cp)

# frame around the figure
W, H = 1062, 635
fig.add_artist(Rectangle((6.5 / W, 6 / H), 1052 / W, 622.5 / H, transform=fig.transFigure,
                         fill=False, edgecolor='#FFC000', lw=5))
fig.add_artist(Line2D([0, 1], [1 / H, 1 / H], transform=fig.transFigure, color='#00B050', lw=1.5))

fig.savefig('out.png', dpi=100)
